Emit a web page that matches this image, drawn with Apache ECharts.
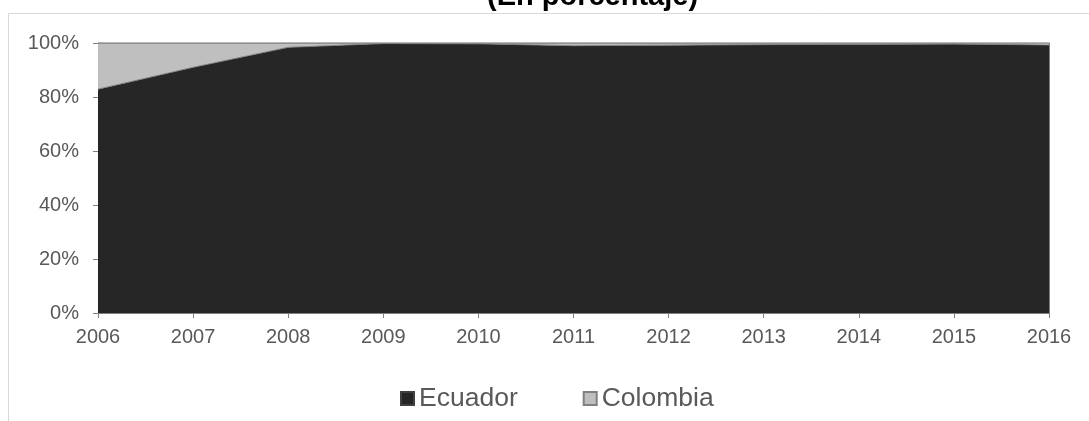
<!DOCTYPE html>
<html>
<head>
<meta charset="utf-8">
<script src="https://cdn.jsdelivr.net/npm/echarts@6/dist/echarts.min.js"></script>
<style>html,body{margin:0;padding:0;background:#fff;}#c{width:1089px;height:421px;}</style>
</head>
<body>
<div id="c"></div>
<script>
const years = ['2006','2007','2008','2009','2010','2011','2012','2013','2014','2015','2016'];
const ecuador = [82.9, 91.0, 98.4, 99.8, 99.7, 99.0, 99.2, 99.4, 99.5, 99.6, 99.3];
const colombia = ecuador.map(v => +(100 - v).toFixed(1));
const yTicks = [0, 20, 40, 60, 80, 100];

const chart = echarts.init(document.getElementById('c'), null, {renderer: 'canvas'});
const font = '"Liberation Sans", Arial, sans-serif';
chart.setOption({
  animation: false,
  backgroundColor: '#ffffff',
  title: {
    text: '(En porcentaje)',
    left: 487,
    top: -18,
    padding: 0,
    textStyle: {fontFamily: font, fontSize: 29, fontWeight: 'bold', color: '#000000'}
  },
  graphic: [{
    type: 'rect', z: -1,
    shape: {x: 8.5, y: 13.5, width: 1200, height: 600},
    style: {fill: 'none', stroke: '#d9d9d9', lineWidth: 1}
  }],
  grid: {left: 98, right: 40, top: 43, bottom: 108},
  legend: {
    top: 385,
    left: 400,
    padding: 0,
    icon: 'rect',
    itemWidth: 13,
    itemHeight: 13,
    itemGap: 65,
    textStyle: {fontFamily: font, fontSize: 26.5, color: '#595959'},
    data: ['Ecuador', 'Colombia']
  },
  xAxis: {
    type: 'category',
    data: years,
    boundaryGap: false,
    axisLine: {lineStyle: {color: '#808080', width: 1}},
    axisTick: {show: true, length: 5, lineStyle: {color: '#808080'}},
    axisLabel: {fontFamily: font, fontSize: 20, color: '#595959', margin: 14},
    splitLine: {show: false}
  },
  yAxis: [{
    type: 'value',
    min: yTicks[0], max: yTicks[yTicks.length - 1], interval: 20,
    axisLine: {show: true, lineStyle: {color: '#808080', width: 1}},
    axisTick: {show: true, length: 5, lineStyle: {color: '#808080'}},
    axisLabel: {fontFamily: font, fontSize: 20, color: '#595959', margin: 19, formatter: '{value}%'},
    splitLine: {show: false}
  }, {
    type: 'value', position: 'right',
    min: yTicks[0], max: yTicks[yTicks.length - 1], interval: 20,
    axisLine: {show: true, lineStyle: {color: '#808080', width: 1}},
    axisTick: {show: false},
    axisLabel: {show: false},
    splitLine: {show: false}
  }],
  series: [
    {
      name: 'Ecuador', type: 'line', stack: 'total', data: ecuador,
      symbol: 'none',
      lineStyle: {color: '#808080', width: 1},
      areaStyle: {color: '#262626', opacity: 1},
      itemStyle: {color: '#262626', borderColor: '#404040', borderWidth: 1}
    },
    {
      name: 'Colombia', type: 'line', stack: 'total', data: colombia,
      symbol: 'none',
      lineStyle: {color: '#808080', width: 1.5},
      areaStyle: {color: '#bfbfbf', opacity: 1},
      itemStyle: {color: '#bfbfbf', borderColor: '#808080', borderWidth: 1}
    }
  ]
});
</script>
</body>
</html>
